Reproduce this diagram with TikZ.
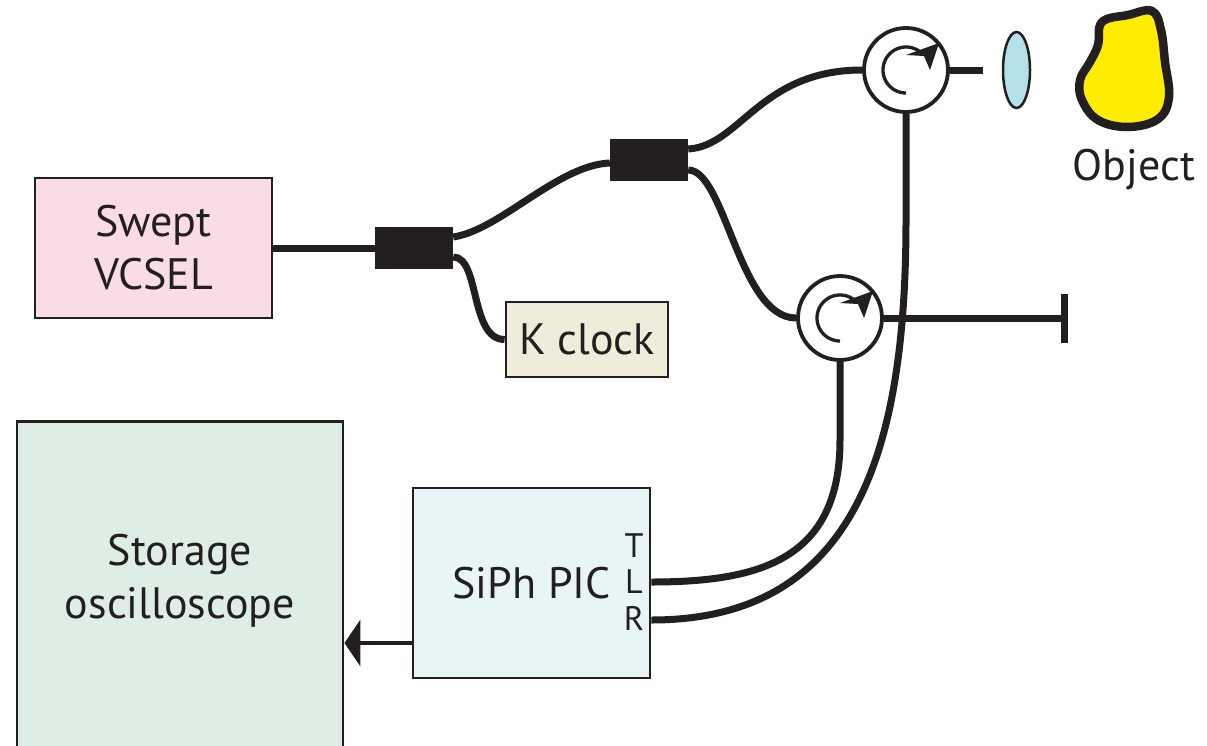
\documentclass[tikz,border=0pt]{standalone}
\usepackage{fontspec}
\setmainfont{PT Sans}
\usetikzlibrary{arrows.meta,shapes.geometric}
\definecolor{ink}{HTML}{231F20}
\definecolor{vcselpink}{HTML}{FADCE6}
\definecolor{clockbeige}{HTML}{EFEDD9}
\definecolor{scopegreen}{HTML}{DEEEE4}
\definecolor{picblue}{HTML}{E8F5F7}
\definecolor{lensblue}{HTML}{B4E1E8}
\definecolor{objyellow}{HTML}{FFEC00}
\newcommand\mainfs{\fontsize{44}{53}\selectfont}
\newcommand\portfs{\fontsize{34}{36}\selectfont}
% circulator symbol: open arc with a barbed head, centred on a node
\newcommand\circarrow[1]{%
  \begin{scope}[shift={(#1.center)}]
    \draw[ink, line width=3.3pt] plot[domain=90:316, samples=60] ({23*cos(\x)},{23*sin(\x)});
    \fill[ink] (33,-27) -- (0,-15) -- (18,-14) -- (24,0) -- cycle;
  \end{scope}}
\begin{document}
\begin{tikzpicture}[x=1pt,y=-1pt,
  box/.style={draw=ink, line width=2.8pt, inner sep=0pt, align=center, text=ink, font=\mainfs},
  fiber/.style={draw=ink, line width=7pt},
  coupler/.style={fill=ink, draw=none, minimum width=78pt, minimum height=42pt, inner sep=0pt},
  circ/.style={circle, draw=ink, line width=3.8pt, fill=white, minimum size=84pt, inner sep=0pt},
  lbl/.style={text=ink, font=\mainfs, inner sep=0pt, align=center},
  port/.style={text=ink, font=\portfs, inner sep=0pt, anchor=base},
]
\useasboundingbox (0,0) rectangle (1207,745);

% instruments
\node[box, fill=vcselpink, minimum width=237pt, minimum height=140pt] (vcsel) at (153.5,248) {Swept\\VCSEL};
\node[box, fill=clockbeige, minimum width=162pt, minimum height=75pt] (kclock) at (587,339.5) {K clock};
\node[box, fill=picblue, minimum width=237pt, minimum height=190pt] (pic) at (531.5,583) {SiPh PIC};
\node[box, fill=scopegreen, minimum width=326pt, minimum height=340pt, anchor=north] (osc) at (180,420) {};
\node[lbl] (osclabel) at (180,581) {Storage\\oscilloscope};

% port letters of the PIC
\node[port] (portT) at (634,557) {T};
\node[port] (portL) at (634,593) {L};
\node[port] (portR) at (634,630) {R};

% fibre couplers
\node[coupler] (cp1) at (414,248) {};
\node[coupler] (cp2) at (649,160) {};

% circulators
\node[circ] (circA) at (906,70) {};
\node[circ] (circB) at (840,318) {};
\circarrow{circA}
\circarrow{circB}

% lens, object and beam stop
\node[ellipse, draw=ink, line width=2.5pt, fill=lensblue, minimum width=27pt, minimum height=76pt, inner sep=0pt] (lens) at (1016.5,70) {};
\draw[ink, line width=8.5pt, fill=objyellow, line join=round]
  plot[smooth cycle, tension=0.65] coordinates {(1102,22) (1128,15) (1152,11) (1161,30) (1165,62) (1169,97) (1158,119) (1128,127) (1098,120) (1082,100) (1080,80) (1090,62) (1098,45)};
\node[lbl, anchor=base] (objlabel) at (1134,180) {Object};
\node[fill=ink, minimum width=7pt, minimum height=49pt, inner sep=0pt] (stop) at (1064.5,318) {};

% fibres
\draw[fiber] (vcsel.east) -- (cp1.west);
\draw[fiber] ([yshift=11pt]cp1.east) .. controls +(47,-7) and +(-52,2) .. ([yshift=-3pt]cp2.west);
\draw[fiber] ([yshift=-9pt]cp1.east) .. controls +(27,0) and +(-35,0) .. (kclock.west);
\draw[fiber] ([yshift=11pt]cp2.east) .. controls +(52,-3) and +(-102,0) .. (circA.west);
\draw[fiber] ([yshift=-10pt]cp2.east) .. controls +(37,0) and +(-57,0) .. (circB.west);
\draw[fiber] (circA.south) -- ++(0,106) .. controls +(0,230) and +(205,0) .. ([yshift=-37pt]pic.east);
\draw[fiber] (circB.south) -- ++(0,78) .. controls +(0,120) and +(108,0) .. ([yshift=1pt]pic.east);
\draw[fiber] (circA.east) -- ([xshift=-19pt]lens.west);
\draw[fiber] (circB.east) -- (stop.west);

% detector output to the scope
\draw[ink, line width=4pt, -{Triangle[length=16pt,width=46pt]}]
  ([yshift=-60pt]pic.west) coordinate (picout) -- (picout -| osc.east);
\end{tikzpicture}
\end{document}
